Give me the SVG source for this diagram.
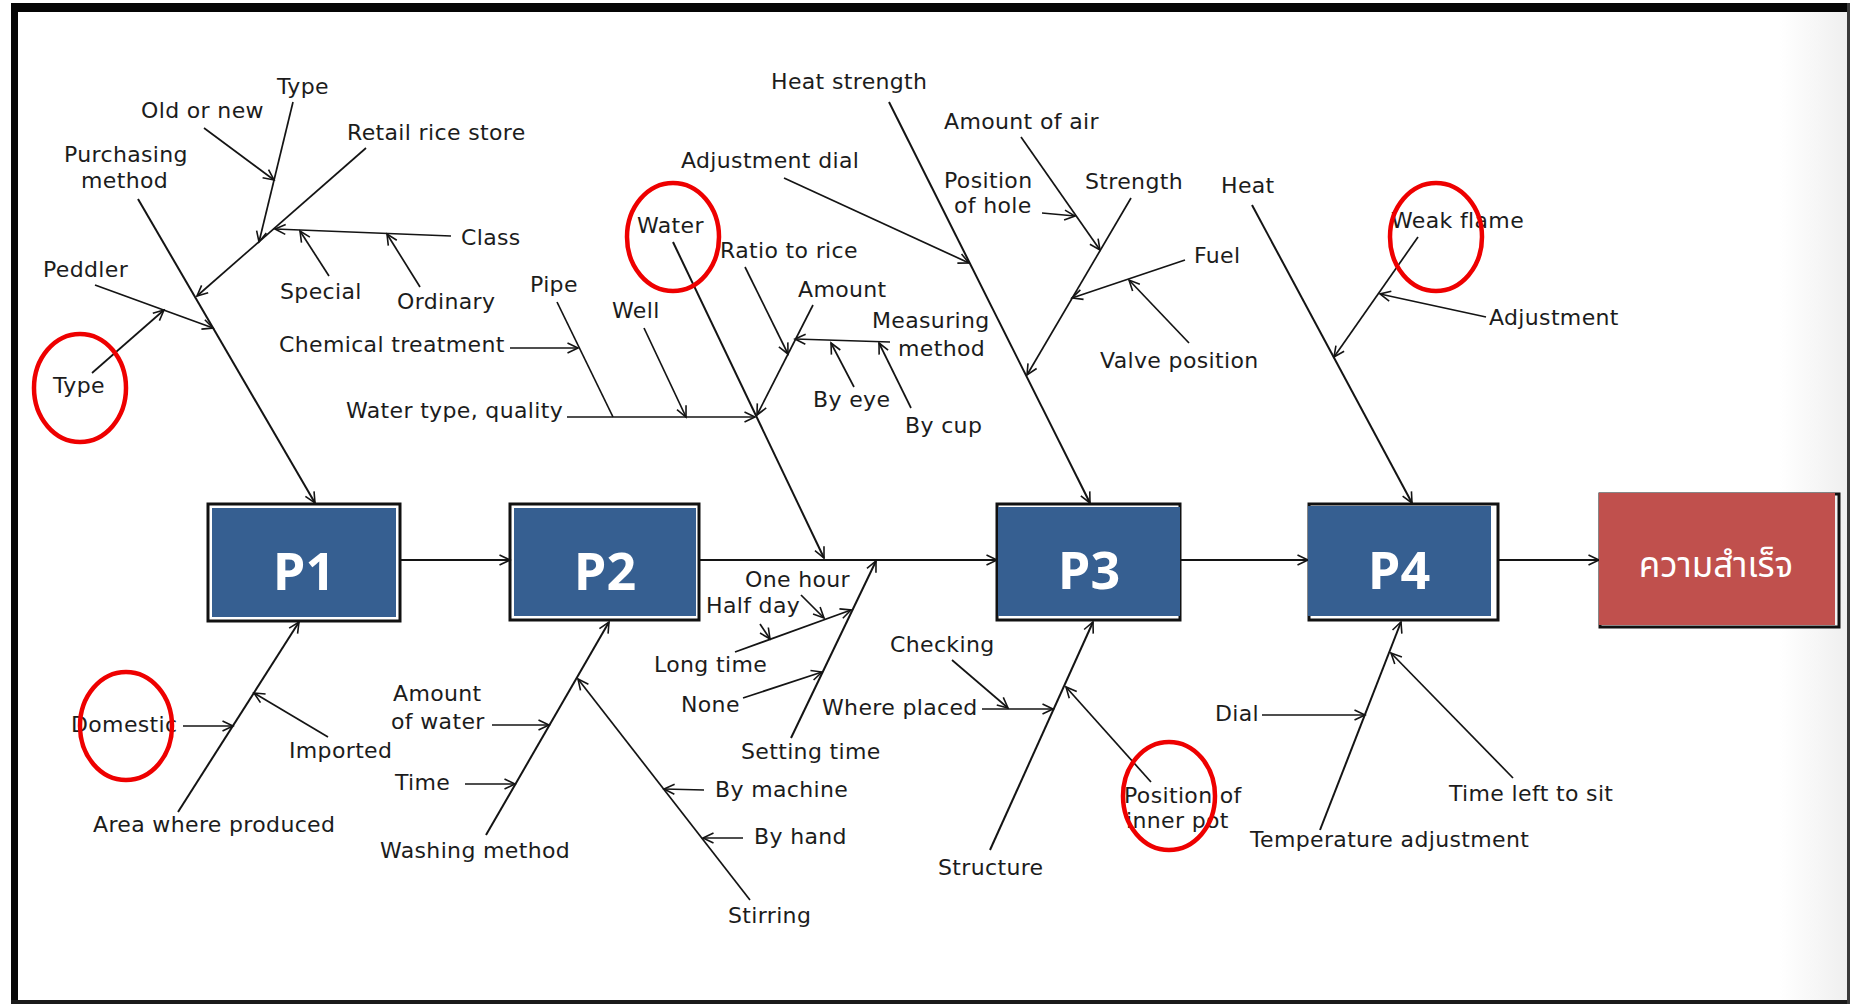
<svg xmlns="http://www.w3.org/2000/svg" width="1851" height="1004" viewBox="0 0 1851 1004">
  <style>
    .lbl { font-family: "DejaVu Sans", "Liberation Sans", sans-serif; font-size: 22px; letter-spacing: 0.35px; fill: #1c1c1c; }
    .bone { stroke: #141414; stroke-width: 2; fill: none; marker-end: url(#arr); }
    .twig { stroke: #141414; stroke-width: 1.7; fill: none; marker-end: url(#arr); }
    .plain { stroke: #141414; stroke-width: 1.7; fill: none; }
    .frameline { fill: none; stroke: #111; stroke-width: 3; }
    .pfill { fill: #365f91; }
    .ptext { font-family: "Open Sans", "DejaVu Sans", sans-serif; font-weight: 700; font-size: 52px; fill: #ffffff; text-anchor: middle; }
    .goal { font-family: "Noto Sans Thai", "Noto Sans", "DejaVu Sans", sans-serif; font-size: 35px; fill: #ffffff; text-anchor: middle; }
    .mark { fill: none; stroke: #ee0000; stroke-width: 4.5; }
  </style>
  <defs>
    <marker id="arr" markerWidth="14" markerHeight="14" refX="12" refY="7" orient="auto" markerUnits="userSpaceOnUse">
      <path d="M1.5,2 L12,7 L1.5,12" fill="none" stroke="#141414" stroke-width="1.6"/>
    </marker>
    <linearGradient id="edgeShade" x1="0" y1="0" x2="1" y2="0">
      <stop offset="0" stop-color="#ffffff"/>
      <stop offset="1" stop-color="#efefef"/>
    </linearGradient>
  </defs>

  <!-- page and frame -->
  <g id="frame">
    <rect x="0" y="0" width="1851" height="1004" fill="#ffffff"/>
    <rect x="1780" y="12" width="68" height="988" fill="url(#edgeShade)"/>
    <rect x="11" y="3" width="1839" height="9" fill="#050505"/>
    <rect x="11" y="3" width="7" height="1001" fill="#050505"/>
    <rect x="11" y="1000" width="1839" height="4" fill="#1a1a1a"/>
    <rect x="1847" y="3" width="3" height="1001" fill="#3a3a3a"/>
  </g>

  <!-- connectors: spine, main bones and sub-causes -->
  <g id="connectors">
    <!-- spine -->
    <line class="bone" x1="400" y1="560" x2="510" y2="560"/>
    <line class="bone" x1="699" y1="560" x2="997" y2="560"/>
    <line class="bone" x1="1180" y1="560" x2="1308" y2="560"/>
    <line class="bone" x1="1498" y1="560" x2="1599" y2="560"/>

    <!-- P1 upper bone: purchasing method -->
    <line class="bone" x1="138" y1="199" x2="315" y2="503"/>
    <line class="twig" x1="366" y1="148" x2="197" y2="296"/>
    <line class="twig" x1="293" y1="102" x2="259" y2="242"/>
    <line class="twig" x1="204" y1="128" x2="274" y2="180"/>
    <line class="twig" x1="451" y1="236" x2="275" y2="229"/>
    <line class="twig" x1="329" y1="276" x2="300" y2="231"/>
    <line class="twig" x1="420" y1="287" x2="387" y2="234"/>
    <line class="twig" x1="95" y1="285" x2="213" y2="328"/>
    <line class="twig" x1="92" y1="373" x2="164" y2="310"/>

    <!-- water bone -->
    <line class="bone" x1="673" y1="242" x2="824" y2="558"/>
    <line class="twig" x1="567" y1="417" x2="755" y2="417"/>
    <line class="plain" x1="557" y1="302" x2="613" y2="417"/>
    <line class="twig" x1="510" y1="348" x2="578" y2="348"/>
    <line class="twig" x1="644" y1="328" x2="686" y2="417"/>
    <line class="twig" x1="813" y1="305" x2="757" y2="415"/>
    <line class="twig" x1="745" y1="267" x2="788" y2="354"/>
    <line class="twig" x1="890" y1="342" x2="795" y2="339"/>
    <line class="twig" x1="854" y1="387" x2="831" y2="343"/>
    <line class="twig" x1="911" y1="408" x2="879" y2="343"/>

    <!-- heat strength bone -->
    <line class="bone" x1="889" y1="102" x2="1090" y2="503"/>
    <line class="twig" x1="784" y1="178" x2="969" y2="263"/>
    <line class="twig" x1="1021" y1="137" x2="1100" y2="250"/>
    <line class="twig" x1="1131" y1="198" x2="1027" y2="375"/>
    <line class="twig" x1="1042" y1="213" x2="1075" y2="216"/>
    <line class="twig" x1="1185" y1="260" x2="1072" y2="298"/>
    <line class="twig" x1="1189" y1="343" x2="1129" y2="280"/>

    <!-- heat bone (P4) -->
    <line class="bone" x1="1252" y1="205" x2="1412" y2="503"/>
    <line class="twig" x1="1418" y1="237" x2="1334" y2="357"/>
    <line class="twig" x1="1486" y1="317" x2="1380" y2="294"/>

    <!-- P1 lower bone: area where produced -->
    <line class="bone" x1="178" y1="812" x2="299" y2="622"/>
    <line class="twig" x1="183" y1="726" x2="233" y2="726"/>
    <line class="twig" x1="328" y1="737" x2="254" y2="693"/>

    <!-- P2 lower bone: washing method -->
    <line class="bone" x1="486" y1="835" x2="609" y2="622"/>
    <line class="twig" x1="492" y1="725" x2="549" y2="725"/>
    <line class="twig" x1="465" y1="784" x2="515" y2="784"/>
    <line class="twig" x1="750" y1="900" x2="578" y2="679"/>
    <line class="twig" x1="704" y1="790" x2="664" y2="789"/>
    <line class="twig" x1="743" y1="838" x2="703" y2="838"/>

    <!-- setting time bone -->
    <line class="bone" x1="791" y1="738" x2="876" y2="561"/>
    <line class="twig" x1="735" y1="652" x2="851" y2="610"/>
    <line class="twig" x1="801" y1="595" x2="824" y2="618"/>
    <line class="twig" x1="760" y1="624" x2="770" y2="639"/>
    <line class="twig" x1="743" y1="698" x2="822" y2="672"/>

    <!-- P3 lower bone: structure -->
    <line class="bone" x1="990" y1="850" x2="1093" y2="622"/>
    <line class="twig" x1="982" y1="709" x2="1053" y2="709"/>
    <line class="twig" x1="952" y1="660" x2="1008" y2="708"/>
    <line class="twig" x1="1151" y1="782" x2="1066" y2="687"/>

    <!-- P4 lower bone: temperature adjustment -->
    <line class="bone" x1="1320" y1="830" x2="1401" y2="622"/>
    <line class="twig" x1="1262" y1="715" x2="1365" y2="715"/>
    <line class="twig" x1="1513" y1="778" x2="1391" y2="653"/>
  </g>

  <!-- process steps -->
  <g id="P1">
    <rect x="208" y="504" width="192" height="117" class="frameline"/>
    <rect x="212" y="508" width="184" height="109" class="pfill"/>
    <text x="304" y="590" class="ptext">P1</text>
  </g>
  <g id="P2">
    <rect x="510" y="504" width="189" height="116" class="frameline"/>
    <rect x="514" y="508" width="182" height="108" class="pfill"/>
    <text x="605" y="590" class="ptext">P2</text>
  </g>
  <g id="P3">
    <rect x="997" y="504" width="183" height="116" class="frameline"/>
    <rect x="998" y="507" width="182" height="109" class="pfill"/>
    <text x="1089" y="589" class="ptext">P3</text>
  </g>
  <g id="P4">
    <rect x="1309" y="504" width="189" height="116" class="frameline"/>
    <rect x="1308" y="506" width="183" height="110" class="pfill"/>
    <text x="1399" y="589" class="ptext">P4</text>
  </g>
  <g id="goal">
    <rect x="1600" y="494" width="239" height="133" class="frameline"/>
    <rect x="1599" y="493" width="236" height="132" fill="#c0504d"/>
    <text x="1716" y="577" class="goal">ความสำเร็จ</text>
  </g>

  <!-- cause labels -->
  <g id="causes" class="lbl">
    <text x="277" y="94">Type</text>
    <text x="141" y="118">Old or new</text>
    <text x="64" y="162">Purchasing</text>
    <text x="81" y="188">method</text>
    <text x="347" y="140">Retail rice store</text>
    <text x="461" y="245">Class</text>
    <text x="43" y="277">Peddler</text>
    <text x="280" y="299">Special</text>
    <text x="397" y="309">Ordinary</text>
    <text x="530" y="292">Pipe</text>
    <text x="279" y="352">Chemical treatment</text>
    <text x="346" y="418">Water type, quality</text>
    <text x="53" y="393">Type</text>

    <text x="771" y="89">Heat strength</text>
    <text x="944" y="129">Amount of air</text>
    <text x="681" y="168">Adjustment dial</text>
    <text x="944" y="188">Position</text>
    <text x="954" y="213">of hole</text>
    <text x="1085" y="189">Strength</text>
    <text x="637" y="233">Water</text>
    <text x="720" y="258">Ratio to rice</text>
    <text x="1194" y="263">Fuel</text>
    <text x="798" y="297">Amount</text>
    <text x="612" y="318">Well</text>
    <text x="872" y="328">Measuring</text>
    <text x="898" y="356">method</text>
    <text x="1100" y="368">Valve position</text>
    <text x="813" y="407">By eye</text>
    <text x="905" y="433">By cup</text>

    <text x="1221" y="193">Heat</text>
    <text x="1391" y="228">Weak flame</text>
    <text x="1489" y="325">Adjustment</text>

    <text x="71" y="732">Domestic</text>
    <text x="289" y="758">Imported</text>
    <text x="93" y="832">Area where produced</text>
    <text x="393" y="701">Amount</text>
    <text x="391" y="729">of water</text>
    <text x="395" y="790">Time</text>
    <text x="380" y="858">Washing method</text>
    <text x="715" y="797">By machine</text>
    <text x="754" y="844">By hand</text>
    <text x="728" y="923">Stirring</text>
    <text x="741" y="759">Setting time</text>
    <text x="745" y="587">One hour</text>
    <text x="706" y="613">Half day</text>
    <text x="654" y="672">Long time</text>
    <text x="681" y="712">None</text>
    <text x="938" y="875">Structure</text>
    <text x="822" y="715">Where placed</text>
    <text x="890" y="652">Checking</text>
    <text x="1124" y="803">Position of</text>
    <text x="1126" y="828">inner pot</text>
    <text x="1215" y="721">Dial</text>
    <text x="1449" y="801">Time left to sit</text>
    <text x="1250" y="847">Temperature adjustment</text>
  </g>

  <!-- highlight rings -->
  <g id="highlights">
    <ellipse cx="80" cy="388" rx="46" ry="54" class="mark"/>
    <ellipse cx="673" cy="237" rx="46" ry="54" class="mark"/>
    <ellipse cx="1436" cy="237" rx="46" ry="54" class="mark"/>
    <ellipse cx="126" cy="726" rx="46" ry="54" class="mark"/>
    <ellipse cx="1169" cy="796" rx="46" ry="54" class="mark"/>
  </g>
</svg>
